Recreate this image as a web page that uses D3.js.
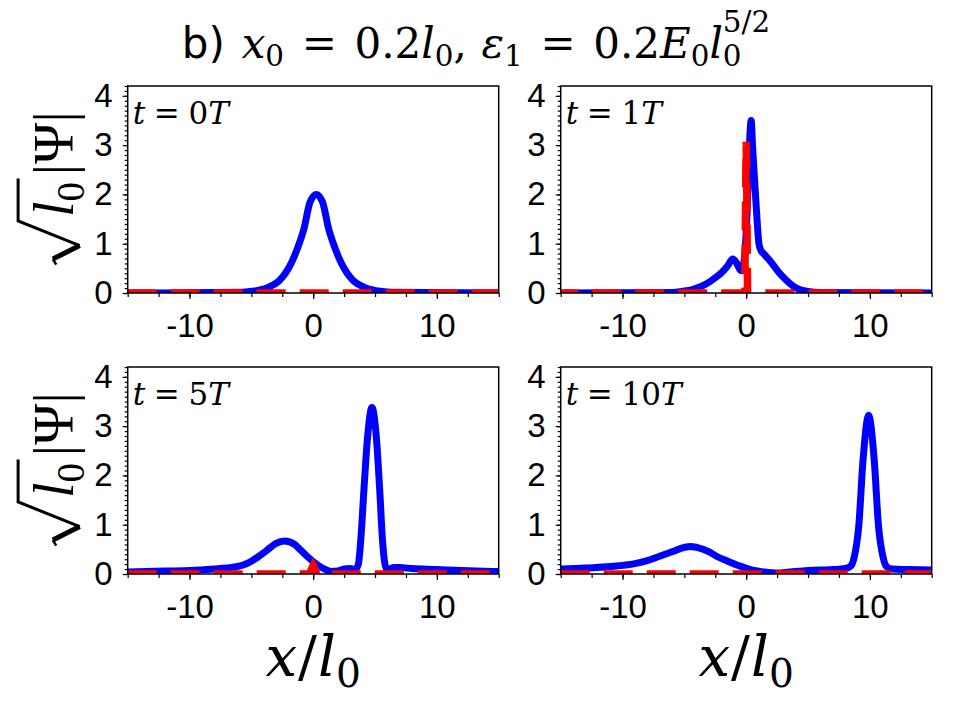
<!DOCTYPE html>
<html>
<head>
<meta charset="utf-8">
<script src="https://cdn.jsdelivr.net/npm/d3@7"></script>
<style>
  body { margin: 0; background: #fff; }
</style>
</head>
<body>
<svg id="chart" width="960" height="720"></svg>
<script>
// values: x/l0 positions and sqrt(l0)|Psi|
var times = [0, 1, 5, 10];

// t = 0T
var xBlue0 = [-15, -5.75, -4.75, -3.75, -3.25, -2.75, -2.25, -1.75, -1.25, -0.75, -0.25, 0.25, 0.75, 1.25, 1.75, 2.25, 2.75, 3.25, 3.75, 4.25, 5.25, 6.25, 15];
var yBlue0 = [0, 0.015, 0.04, 0.1, 0.16, 0.25, 0.4, 0.62, 0.92, 1.3, 1.85, 2.0, 1.85, 1.3, 0.92, 0.62, 0.4, 0.25, 0.16, 0.1, 0.04, 0.015, 0];
var xRed0 = [-15, 15];
var yRed0 = [0, 0];

// t = 1T
var xBlue1 = [-15, -6, -5, -4.5, -4, -3.5, -3, -2.5, -2, -1.5, -1.1, -0.8, -0.5, -0.35, -0.15, 0.05, 0.18, 0.3, 0.4, 0.52, 0.65, 0.78, 0.9, 1.03, 1.2, 1.4, 2, 2.7, 3.2, 3.8, 4.3, 5, 6, 15];
var yBlue1 = [0, 0.01, 0.04, 0.06, 0.1, 0.15, 0.22, 0.31, 0.41, 0.55, 0.69, 0.62, 0.47, 0.45, 0.7, 1.5, 2.4, 3.2, 3.5, 2.95, 2.4, 1.88, 1.4, 1.0, 0.86, 0.8, 0.63, 0.4, 0.27, 0.14, 0.07, 0.03, 0.01, 0];
var xRed1 = [-15, -0.11, -0.05, 0, 0.05, 0.11, 15];
var yRed1 = [0, 0, 2.0, 3.07, 2.0, 0, 0];

// t = 5T
var xBlue5 = [-15, -12, -10, -8, -7, -6, -5.5, -5, -4.5, -4, -3.5, -3, -2.3, -1.5, -1, -0.5, 0, 0.5, 1, 1.5, 2, 2.5, 3, 3.4, 3.65, 3.85, 4.1, 4.38, 4.75, 5.12, 5.38, 5.6, 5.8, 6.0, 6.5, 7, 8, 10, 12, 15];
var yBlue5 = [0.04, 0.06, 0.07, 0.1, 0.12, 0.16, 0.2, 0.26, 0.34, 0.43, 0.53, 0.62, 0.67, 0.6, 0.48, 0.36, 0.25, 0.16, 0.09, 0.05, 0.06, 0.1, 0.11, 0.09, 0.2, 0.7, 1.7, 2.73, 3.38, 2.73, 1.7, 0.7, 0.2, 0.08, 0.13, 0.13, 0.11, 0.09, 0.07, 0.05];
var xRed5 = [-15, -0.3, -0.1, 0, 0.1, 0.3, 15];
var yRed5 = [0, 0, 0.12, 0.17, 0.12, 0, 0];

// t = 10T
var xBlue10 = [-15, -13, -11, -9, -8, -7, -6, -5, -4.5, -4, -3, -2.4, -1.5, -0.5, 0.5, 1.5, 2.5, 3.5, 5, 7, 8, 8.45, 8.75, 9.1, 9.45, 9.9, 10.35, 10.7, 11.05, 11.35, 11.8, 13, 15];
var yBlue10 = [0.1, 0.12, 0.15, 0.21, 0.27, 0.36, 0.45, 0.54, 0.56, 0.54, 0.45, 0.36, 0.26, 0.16, 0.08, 0.04, 0.02, 0.04, 0.07, 0.09, 0.11, 0.16, 0.36, 0.97, 2.32, 3.22, 2.32, 0.97, 0.36, 0.15, 0.1, 0.09, 0.08];
var xRed10 = [-15, 15];
var yRed10 = [0, 0];

var xDomain = [-15, 15],
    yDomain = [0, 4.2];
var xMajor = [-10, 0, 10],
    xMinor = d3.range(-15, 15.01, 2.5),
    yMajor = [0, 1, 2, 3, 4],
    yMinor = d3.range(0, 4.201, 0.1);

var panels = [
  { t: times[0], bx: xBlue0, by: yBlue0, rx: xRed0, ry: yRed0 },
  { t: times[1], bx: xBlue1, by: yBlue1, rx: xRed1, ry: yRed1 },
  { t: times[2], bx: xBlue5, by: yBlue5, rx: xRed5, ry: yRed5 },
  { t: times[3], bx: xBlue10, by: yBlue10, rx: xRed10, ry: yRed10 }
];

// layout
var colLeft = [127.7, 560.7], panelW = 371,
    rowTop = [86, 367], panelH = 207;

var serifA = "'DejaVu Serif', serif",
    serifB = "'Liberation Serif', 'DejaVu Serif', serif",
    sansFont = "'Liberation Sans', 'DejaVu Sans', sans-serif";

var svg = d3.select("#chart");

// lays out a row of text pieces from x = 0, returns total width
function mathRow(g, pieces, size, font) {
  var x = 0, end = 0;
  pieces.forEach(function(p) {
    var fs = size * (p.sub || p.sup ? 0.7 : 1);
    x += (p.gap || 0) * size;
    var dy = p.sub ? 0.2 * size : p.sup ? -0.62 * size : 0;
    var t = g.append("text")
      .attr("x", x)
      .attr("y", dy)
      .attr("font-family", p.sans ? "'DejaVu Sans', sans-serif" : font)
      .attr("font-style", p.it ? "italic" : "normal")
      .attr("font-size", fs)
      .attr("fill", "#000")
      .text(p.s);
    var w = t.node().getComputedTextLength();
    p.x0 = x;
    p.x1 = x + w;
    end = Math.max(end, x + w);
    if (!p.stack) x += w;
  });
  return end;
}

// title
var title = svg.append("g");
var titleW = mathRow(title, [
  { s: "b)", sans: true },
  { s: "x", it: true, gap: 0.4 }, { s: "0", sub: true },
  { s: "=", gap: 0.42 },
  { s: "0.2", gap: 0.42 }, { s: "l", it: true }, { s: "0", sub: true }, { s: "," },
  { s: "\u03b5", it: true, gap: 0.35 }, { s: "1", sub: true },
  { s: "=", gap: 0.42 },
  { s: "0.2", gap: 0.42 }, { s: "E", it: true }, { s: "0", sub: true },
  { s: "l", it: true }, { s: "0", sub: true, stack: true }, { s: "5/2", sup: true }
], 42, serifA);
title.attr("transform", "translate(" + (476 - titleW / 2) + ",58)");

function drawPanel(p, i) {
  var col = i % 2, row = Math.floor(i / 2);
  var left = colLeft[col], top = rowTop[row];
  var x = d3.scaleLinear().domain(xDomain).range([left, left + panelW]);
  var y = d3.scaleLinear().domain(yDomain).range([top + panelH, top]);

  var g = svg.append("g").attr("class", "panel");

  g.append("clipPath").attr("id", "clip" + i)
    .append("rect")
      .attr("x", left).attr("y", top)
      .attr("width", panelW).attr("height", panelH);

  var line = d3.line()
      .x(function(d) { return x(d[0]); })
      .y(function(d) { return y(d[1]); });

  var plot = g.append("g").attr("clip-path", "url(#clip" + i + ")");
  plot.append("path")
      .datum(d3.zip(p.bx, p.by))
      .attr("fill", "none")
      .attr("stroke", "#0000ff")
      .attr("stroke-width", 7)
      .attr("stroke-linejoin", "round")
      .attr("d", line.curve(d3.curveMonotoneX));
  // the narrow spike at t=1T: shift the dashes so up and down strokes cover each other
  plot.append("path")
      .datum(d3.zip(p.rx, p.ry))
      .attr("fill", "none")
      .attr("stroke", "#ff0000")
      .attr("stroke-width", 7.5)
      .attr("stroke-dasharray", "29,14")
      .attr("stroke-dashoffset", i === 1 ? 11.5 : 0)
      .attr("d", line.curve(d3.curveLinear));

  // axes
  var xAxisMinor = d3.axisBottom(x).tickValues(xMinor).tickSize(4).tickFormat("");
  var xAxisMajor = d3.axisBottom(x).tickValues(xMajor).tickSize(6).tickPadding(15)
      .tickFormat(function(d) { return String(d); });
  var yAxisMinor = d3.axisLeft(y).tickValues(yMinor).tickSize(3).tickFormat("");
  var yAxisMajor = d3.axisLeft(y).tickValues(yMajor).tickSize(5).tickPadding(10)
      .tickFormat(function(d) { return String(d); });

  [xAxisMinor, xAxisMajor].forEach(function(ax) {
    g.append("g")
        .attr("transform", "translate(0," + (top + panelH) + ")")
        .call(ax)
        .call(function(s) { s.select(".domain").remove(); });
  });
  [yAxisMinor, yAxisMajor].forEach(function(ax) {
    g.append("g")
        .attr("transform", "translate(" + left + ",0)")
        .call(ax)
        .call(function(s) { s.select(".domain").remove(); });
  });
  g.selectAll(".tick line").attr("stroke", "#000").attr("stroke-width", 1.2);
  g.selectAll(".tick text")
      .attr("font-family", sansFont)
      .attr("font-size", 33)
      .attr("fill", "#000");

  g.append("rect")
      .attr("x", left).attr("y", top)
      .attr("width", panelW).attr("height", panelH)
      .attr("fill", "none")
      .attr("stroke", "#000")
      .attr("stroke-width", 1.5);

  // time label
  var lab = g.append("g")
      .attr("transform", "translate(" + (left + 5) + "," + (top + 38) + ")");
  mathRow(lab, [
    { s: "t", it: true },
    { s: "=", gap: 0.28 },
    { s: String(p.t), gap: 0.28 },
    { s: "T", it: true }
  ], 31, serifA);

  // x label on the bottom row
  if (row === 1) {
    var xl = svg.append("g");
    var xw = mathRow(xl, [
      { s: "x", it: true },
      { s: "/", gap: 0.02 },
      { s: "l", it: true, gap: 0.02 }, { s: "0", sub: true }
    ], 56, serifA);
    xl.attr("transform", "translate(" + (left + panelW / 2 - xw / 2) + ",676)");
  }

  // y label on the left column
  if (col === 0) drawYLabel(top + panelH / 2 - 1.5);
}

// sqrt(l0)|Psi| written upward, with a drawn radical
function drawYLabel(cy) {
  var F = 56;
  var g = svg.append("g");
  var rad = 0.8 * F;
  var inner = g.append("g").attr("transform", "translate(" + rad + ",0)");
  var pieces = [
    { s: "l", it: true, gap: 0.05 }, { s: "0", sub: true },
    { s: "|", gap: 0.12 }, { s: "\u03a8" }, { s: "|" }
  ];
  var w = mathRow(inner, pieces, F, serifB);
  var overEnd = rad + pieces[1].x1 + 0.06 * F;
  g.append("path")
      .attr("d", "M0," + (-0.3 * F) + "L" + (0.1 * F) + "," + (-0.36 * F))
      .attr("stroke", "#000").attr("stroke-width", 2.5).attr("fill", "none");
  g.append("path")
      .attr("d", "M" + (0.1 * F) + "," + (-0.36 * F) + "L" + (0.34 * F) + "," + (0.12 * F))
      .attr("stroke", "#000").attr("stroke-width", 5).attr("fill", "none");
  g.append("path")
      .attr("d", "M" + (0.34 * F) + "," + (0.12 * F) + "L" + (0.78 * F) + "," + (-0.98 * F) + "H" + overEnd)
      .attr("stroke", "#000").attr("stroke-width", 3).attr("fill", "none")
      .attr("stroke-linejoin", "miter");
  var total = rad + w;
  g.attr("transform", "translate(73," + (cy + total / 2) + ") rotate(-90)");
}

panels.forEach(drawPanel);
</script>
</body>
</html>
